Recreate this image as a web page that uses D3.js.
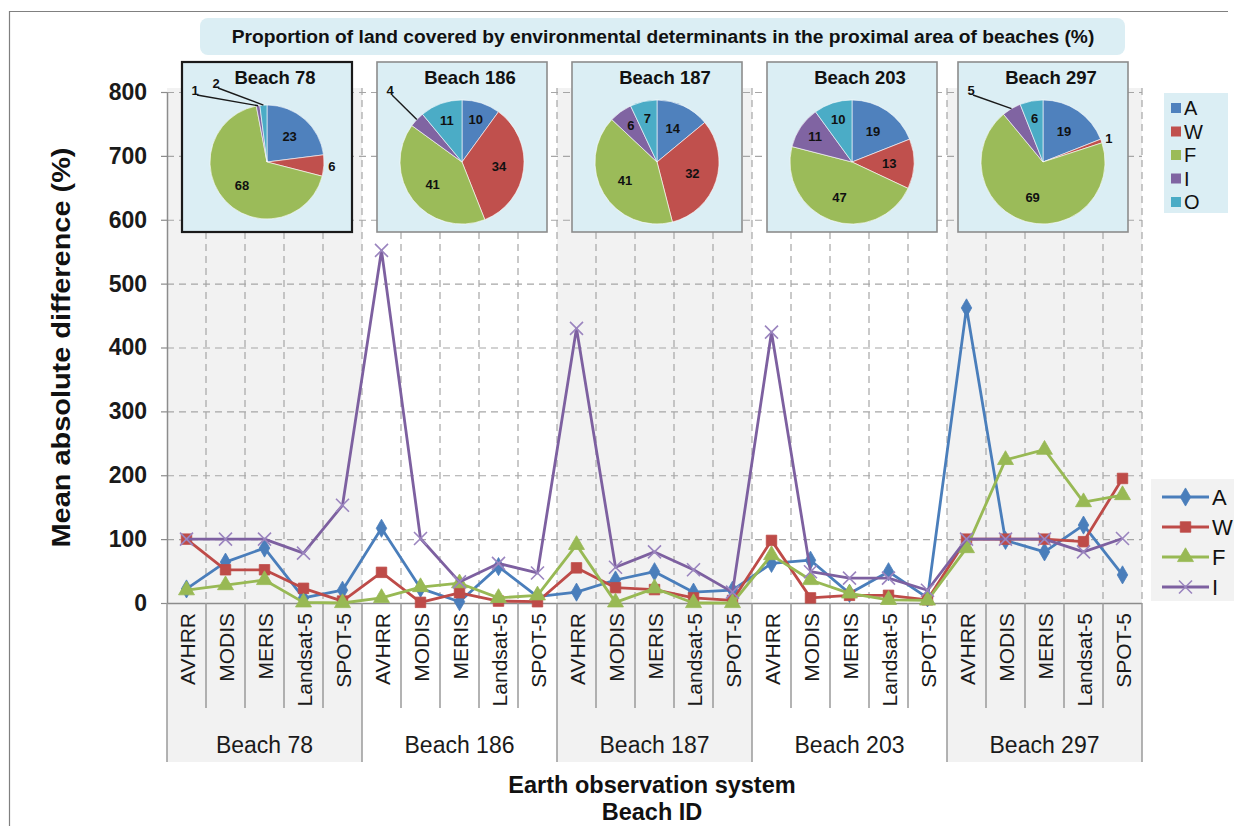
<!DOCTYPE html>
<html>
<head>
<meta charset="utf-8">
<script src="https://cdn.jsdelivr.net/npm/d3@7"></script>
<style>
  body { margin: 0; background: #fff; }
  svg { display: block; font-family: "Liberation Sans", Arial, sans-serif; }
</style>
</head>
<body>
<svg id="chart" width="1234" height="826"></svg>
<script>
// ---- data ----
const systems = ["AVHRR", "MODIS", "MERIS", "Landsat-5", "SPOT-5"];
const beaches = ["Beach 78", "Beach 186", "Beach 187", "Beach 203", "Beach 297"];
const yTicks = [0, 100, 200, 300, 400, 500, 600, 700, 800];

// mean absolute difference (%) per beach x system, in beach order
const seriesA = [22, 64, 86, 8, 20,   117, 23, 2, 57, 10,   17, 36, 49, 17, 20,   62, 67, 15, 49, 8,   462, 98, 80, 122, 44];
const seriesW = [100, 52, 52, 23, 3,  48, 1, 16, 3, 2,      55, 24, 21, 8, 4,     98, 8, 12, 12, 5,    100, 100, 100, 96, 195];
const seriesF = [20, 28, 36, 1, 0,    8, 25, 31, 8, 12,     91, 1, 23, 0, 0,      75, 36, 15, 5, 4,    86, 224, 240, 158, 169];
const seriesI = [100, 100, 100, 78, 153, 552, 101, 33, 62, 47, 430, 56, 80, 52, 17, 424, 49, 39, 39, 20, 100, 100, 100, 80, 101];

// land cover share (%) in the proximal area of each beach
const landA = [23, 10, 14, 19, 19];
const landW = [6, 34, 32, 13, 1];
const landF = [68, 41, 41, 47, 69];
const landI = [1, 4, 6, 11, 5];
const landO = [2, 11, 7, 10, 6];

const landKeys = ["A", "W", "F", "I", "O"];
const landColors = { A: "#4f81bd", W: "#c0504d", F: "#9bbb59", I: "#8064a2", O: "#4bacc6" };
const lineKeys = ["A", "W", "F", "I"];
const lineColors = { A: "#4a7ebb", W: "#be4b48", F: "#98b954", I: "#7d60a0" };

const lineSeries = [
  { key: "A", values: seriesA },
  { key: "W", values: seriesW },
  { key: "F", values: seriesF },
  { key: "I", values: seriesI }
];

// ---- layout ----
const svg = d3.select("#chart");
const pLeft = 167, pRight = 1142, pTop = 92, pBottom = 603;
const n = beaches.length * systems.length;
const cats = d3.range(n);

const x = d3.scaleBand().domain(cats).range([pLeft, pRight]);
const bw = x.bandwidth();
const y = d3.scaleLinear().domain([0, 800]).range([pBottom, pTop]);

const gridCol = "#a6a6a6";
const axisCol = "#8c8c8c";

// outer frame
svg.append("path")
  .attr("d", "M9.5,826 V11.5 H1228")
  .attr("fill", "none").attr("stroke", "#808080").attr("stroke-width", 1.2);

// alternating group shading (plot + category area)
beaches.forEach((b, g) => {
  if (g % 2 === 0) {
    svg.append("rect")
      .attr("x", x(g * systems.length))
      .attr("y", pTop - 4)
      .attr("width", bw * systems.length)
      .attr("height", 762 - (pTop - 4))
      .attr("fill", "#f2f2f2");
  }
});

// horizontal dashed grid
svg.append("g").selectAll("line")
  .data(yTicks.filter(v => v > 0))
  .join("line")
  .attr("x1", pLeft).attr("x2", pRight)
  .attr("y1", d => y(d) + 0.5).attr("y2", d => y(d) + 0.5)
  .attr("stroke", gridCol).attr("stroke-width", 1.2).attr("stroke-dasharray", "7,5");

// vertical dashed grid at category boundaries
svg.append("g").selectAll("line")
  .data(d3.range(1, n + 1))
  .join("line")
  .attr("x1", k => pLeft + k * bw).attr("x2", k => pLeft + k * bw)
  .attr("y1", pTop - 4).attr("y2", pBottom)
  .attr("stroke", gridCol).attr("stroke-width", 1.2).attr("stroke-dasharray", "7,5");

// y axis
const yAxis = svg.append("g")
  .attr("transform", `translate(${pLeft},0)`)
  .call(d3.axisLeft(y).tickValues(yTicks).tickSize(6).tickSizeOuter(0).tickPadding(14));
yAxis.select(".domain").attr("stroke", axisCol).attr("stroke-width", 1.5);
yAxis.selectAll(".tick line").attr("stroke", axisCol).attr("stroke-width", 1.2);
yAxis.selectAll(".tick text")
  .attr("font-size", 23).attr("font-weight", "bold").attr("fill", "#1a1a1a")
  .attr("font-family", "Liberation Sans, Arial, sans-serif");

// x axis line
svg.append("line")
  .attr("x1", pLeft).attr("x2", pRight).attr("y1", pBottom + 0.5).attr("y2", pBottom + 0.5)
  .attr("stroke", axisCol).attr("stroke-width", 1.5);

// category separators
svg.append("g").selectAll("line")
  .data(d3.range(0, n + 1))
  .join("line")
  .attr("x1", k => pLeft + k * bw).attr("x2", k => pLeft + k * bw)
  .attr("y1", pBottom).attr("y2", k => (k % systems.length === 0 ? 762 : 708))
  .attr("stroke", "#9a9a9a").attr("stroke-width", 1.5);

// system labels (rotated)
svg.append("g").selectAll("text")
  .data(cats)
  .join("text")
  .attr("transform", i => `translate(${x(i) + bw / 2 + 1},${pBottom + 10}) rotate(-90)`)
  .attr("text-anchor", "end")
  .attr("dominant-baseline", "central")
  .attr("font-size", 21).attr("fill", "#1a1a1a")
  .text(i => systems[i % systems.length]);

// beach group labels
svg.append("g").selectAll("text")
  .data(beaches)
  .join("text")
  .attr("x", (b, g) => x(g * systems.length) + bw * systems.length / 2)
  .attr("y", 753)
  .attr("text-anchor", "middle")
  .attr("font-size", 23).attr("fill", "#1a1a1a")
  .text(d => d);

// axis titles
svg.append("text")
  .attr("x", 652).attr("y", 793).attr("text-anchor", "middle")
  .attr("font-size", 23.5).attr("font-weight", "bold").attr("fill", "#111")
  .text("Earth observation system");
svg.append("text")
  .attr("x", 652).attr("y", 820).attr("text-anchor", "middle")
  .attr("font-size", 23.5).attr("font-weight", "bold").attr("fill", "#111")
  .text("Beach ID");
svg.append("text")
  .attr("transform", `translate(70,${(pTop + pBottom) / 2}) rotate(-90)`)
  .attr("text-anchor", "middle")
  .attr("font-size", 25).attr("font-weight", "bold").attr("fill", "#111")
  .attr("textLength", 400).attr("lengthAdjust", "spacingAndGlyphs")
  .text("Mean absolute difference (%)");

// ---- series lines and markers ----
const line = d3.line().x((d, i) => x(i) + bw / 2).y(d => y(d));

function drawMarker(sel, key, color) {
  if (key === "I") {
    const s = 6.5;
    sel.append("path")
      .attr("d", `M${-s},${-s}L${s},${s}M${-s},${s}L${s},${-s}`)
      .attr("stroke", "#9b85bf").attr("stroke-width", 1.6).attr("fill", "none");
  } else {
    const type = key === "A" ? d3.symbolDiamond : key === "W" ? d3.symbolSquare : d3.symbolTriangle;
    const size = key === "A" ? 95 : 110;
    sel.append("path")
      .attr("d", d3.symbol().type(type).size(size)())
      .attr("fill", color).attr("stroke", color).attr("stroke-width", 0.8);
  }
}

lineSeries.forEach(s => {
  const c = lineColors[s.key];
  svg.append("path")
    .datum(s.values)
    .attr("d", line)
    .attr("fill", "none")
    .attr("stroke", c)
    .attr("stroke-width", 2.8)
    .attr("stroke-linejoin", "round");
  const g = svg.append("g");
  s.values.forEach((v, i) => {
    const m = g.append("g").attr("transform", `translate(${x(i) + bw / 2},${y(v)})`);
    drawMarker(m, s.key, c);
  });
});

// line legend
const lg = svg.append("g");
lg.append("rect").attr("x", 1151).attr("y", 479).attr("width", 83).attr("height", 122).attr("fill", "#f2f2f2");
lineKeys.forEach((k, i) => {
  const ly = 497 + i * 30;
  lg.append("line").attr("x1", 1162).attr("x2", 1209).attr("y1", ly).attr("y2", ly)
    .attr("stroke", lineColors[k]).attr("stroke-width", 2.8);
  const m = lg.append("g").attr("transform", `translate(1185.5,${ly})`);
  drawMarker(m, k, lineColors[k]);
  lg.append("text").attr("x", 1212).attr("y", ly).attr("dominant-baseline", "central")
    .attr("font-size", 22).attr("fill", "#111").text(k);
});

// ---- land cover pies ----
// title banner
svg.append("rect").attr("x", 200).attr("y", 18).attr("width", 925).attr("height", 37)
  .attr("rx", 8).attr("fill", "#dbeef4");
svg.append("text").attr("x", 663).attr("y", 43).attr("text-anchor", "middle")
  .attr("font-size", 19.2).attr("font-weight", "bold").attr("fill", "#111")
  .text("Proportion of land covered by environmental determinants in the proximal area of beaches (%)");

const pieGen = d3.pie().sort(null).value(d => d.v);
const boxW = 170, boxTop = 62, boxH = 170;

beaches.forEach((b, g) => {
  const bx = x(g * systems.length) + 15 - (g === 4 ? 4 : 0);
  const cx = bx + boxW / 2, cy = 162;
  const r = g === 0 ? 57 : 62;
  const slices = landKeys.map(k => ({
    k,
    v: { A: landA, W: landW, F: landF, I: landI, O: landO }[k][g]
  }));
  const pg = svg.append("g");
  pg.append("rect").attr("x", bx).attr("y", boxTop).attr("width", boxW).attr("height", boxH)
    .attr("fill", "#dbeef4")
    .attr("stroke", g === 0 ? "#1a1a1a" : "#8c8c8c")
    .attr("stroke-width", g === 0 ? 2.2 : 1.6);
  pg.append("text").attr("x", cx + 8).attr("y", 84).attr("text-anchor", "middle")
    .attr("font-size", 18.5).attr("font-weight", "bold").attr("fill", "#111").text(b);

  const arcs = pieGen(slices);
  const arc = d3.arc().innerRadius(0).outerRadius(r);
  const pc = pg.append("g").attr("transform", `translate(${cx},${cy})`);
  pc.selectAll("path").data(arcs).join("path")
    .attr("d", arc)
    .attr("fill", d => landColors[d.data.k])
    .attr("stroke", "#ffffff").attr("stroke-width", 0.6);

  let leaderCount = 0;
  arcs.forEach(a => {
    const mid = (a.startAngle + a.endAngle) / 2;
    const sx = Math.sin(mid), sy = -Math.cos(mid);
    const v = a.data.v;
    const lbl = pc.append("text")
      .attr("text-anchor", "middle").attr("dominant-baseline", "central")
      .attr("font-size", 13).attr("font-weight", "bold").attr("fill", "#111")
      .text(v);
    if (v <= 6 && mid < Math.PI) {
      // small slice on the right: label just outside the rim
      lbl.attr("x", sx * (r + 8)).attr("y", sy * (r + 8));
    } else if (v <= 5) {
      // small slice on the left: label at upper left with leader line
      const lx = -72 + leaderCount * 21;
      const ly = -70 - leaderCount * 7;
      leaderCount++;
      pc.append("line")
        .attr("x1", sx * r).attr("y1", sy * r)
        .attr("x2", lx + 2).attr("y2", ly + 3)
        .attr("stroke", "#1a1a1a").attr("stroke-width", 1.4);
      lbl.attr("x", lx).attr("y", ly - 2);
    } else {
      const rr = r * (v < 12 ? 0.72 : 0.6);
      lbl.attr("x", sx * rr).attr("y", sy * rr);
    }
  });
});

// pie legend
const pl = svg.append("g");
pl.append("rect").attr("x", 1164).attr("y", 93).attr("width", 64).attr("height", 120).attr("fill", "#dbeef4");
landKeys.forEach((k, i) => {
  const ly = 108 + i * 23.5;
  pl.append("rect").attr("x", 1171).attr("y", ly - 5).attr("width", 10).attr("height", 10)
    .attr("fill", landColors[k]);
  pl.append("text").attr("x", 1184).attr("y", ly).attr("dominant-baseline", "central")
    .attr("font-size", 20).attr("fill", "#111").text(k);
});
</script>
</body>
</html>
